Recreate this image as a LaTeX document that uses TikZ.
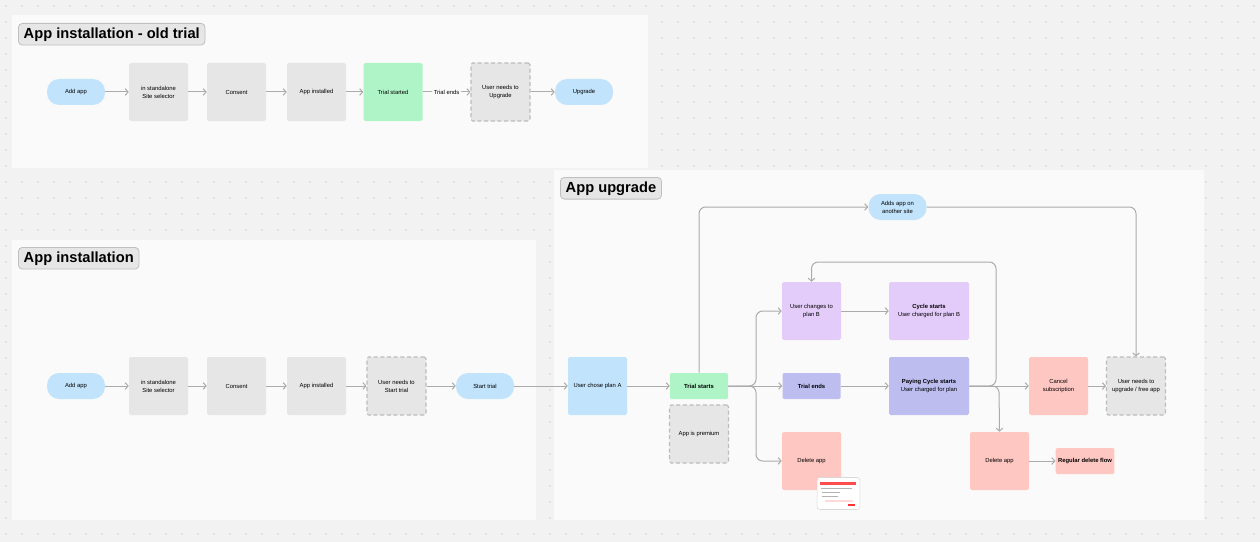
\documentclass[tikz,border=0pt]{standalone}
\usepackage{fontspec}
\setmainfont{Liberation Sans}
\usetikzlibrary{arrows.meta}
\definecolor{canvas}{HTML}{F2F2F2}
\definecolor{panel}{HTML}{FAFAFA}
\definecolor{gbox}{HTML}{E6E6E6}
\definecolor{bluef}{HTML}{C2E3FC}
\definecolor{greenf}{HTML}{AFF4C6}
\definecolor{lilac}{HTML}{E4CCFA}
\definecolor{violet}{HTML}{BDBDF0}
\definecolor{redf}{HTML}{FFC7C2}
\definecolor{linec}{HTML}{ABABAB}
\tikzset{
 base/.style={draw=none,align=center,font=\fontsize{4.4}{6}\selectfont,inner sep=1pt},
 sq/.style={base,minimum width=44.25pt,minimum height=43.5pt,rounded corners=1.2pt},
 wd/.style={base,minimum width=60pt,minimum height=43.5pt,rounded corners=1.2pt},
 pill/.style={base,minimum width=43.5pt,minimum height=19.5pt,rounded corners=9pt},
 bar/.style={base,minimum width=43.5pt,minimum height=19.5pt,rounded corners=1pt},
 dsh/.style={draw=linec!80,dashed,line width=0.8pt,dash pattern=on 3pt off 2pt},
 title/.style={draw=black!25,fill=gbox,rounded corners=3pt,line width=0.6pt,font=\fontsize{11}{13}\selectfont\bfseries,inner xsep=4pt,inner ysep=3pt,anchor=north west},
 ar/.style={draw=linec,line width=0.75pt,-{Straight Barb[length=2.2pt,width=5pt]},rounded corners=5pt},
}
\begin{document}
\begin{tikzpicture}[x=0.75pt,y=-0.75pt]
\fill[canvas] (0,0) rectangle (1260,542);
\useasboundingbox (0,0) rectangle (1260,542);
\foreach \i in {0,...,78}{\foreach \j in {0,...,33}{\fill[black!35] (\i*16+6,\j*16+6) circle (0.45pt);}}
% panels
\fill[panel] (12,15) rectangle (648,168);
\fill[panel] (12,240) rectangle (536,520);
\fill[panel] (554,170) rectangle (1204,520);
\node[title] (t1) at (18,23) {App installation - old trial};
\node[title] (t2) at (18,247) {App installation};
\node[title] (t3) at (560,177) {App upgrade};
% row 1
\node[pill,fill=bluef] (a1) at (76,92) {Add app};
\node[sq,fill=gbox] (b1) at (158.5,92) {in standalone\\Site selector};
\node[sq,fill=gbox] (c1) at (236.5,92) {Consent};
\node[sq,fill=gbox] (d1) at (316.5,92) {App installed};
\node[sq,fill=greenf] (e1) at (393,92) {Trial started};
\node[sq,fill=gbox,dsh] (f1) at (500.5,92) {User needs to\\Upgrade};
\node[pill,fill=bluef] (g1) at (584,92) {Upgrade};
\draw[ar] (a1) -- (b1);
\draw[ar] (b1) -- (c1);
\draw[ar] (c1) -- (d1);
\draw[ar] (d1) -- (e1);
\draw[ar] (e1) -- node[fill=panel,font=\fontsize{4.4}{6}\selectfont,inner sep=1.5pt] {Trial ends} (f1);
\draw[ar] (f1) -- (g1);
% row 2
\node[pill,fill=bluef] (a2) at (76,386) {Add app};
\node[sq,fill=gbox] (b2) at (158.5,386) {in standalone\\Site selector};
\node[sq,fill=gbox] (c2) at (236.5,386) {Consent};
\node[sq,fill=gbox] (d2) at (316.5,386) {App installed};
\node[sq,fill=gbox,dsh] (e2) at (396.5,386) {User needs to\\Start trial};
\node[pill,fill=bluef] (f2) at (485,386) {Start trial};
\draw[ar] (a2) -- (b2);
\draw[ar] (b2) -- (c2);
\draw[ar] (c2) -- (d2);
\draw[ar] (d2) -- (e2);
\draw[ar] (e2) -- (f2);
% upgrade
\node[sq,fill=bluef] (ua) at (597.5,386) {User chose plan A};
\node[bar,fill=greenf,font=\fontsize{4.4}{6}\selectfont\bfseries] (ts) at (699,386) {Trial starts};
\node[sq,fill=gbox,dsh] (ap) at (699,434) {App is premium};
\node[sq,fill=lilac] (pb) at (811.5,311) {User changes to\\plan B};
\node[wd,fill=lilac] (cs) at (929,311) {\textbf{Cycle starts}\\User charged for plan B};
\node[bar,fill=violet,font=\fontsize{4.4}{6}\selectfont\bfseries] (te) at (811.5,386) {Trial ends};
\node[wd,fill=violet] (pc) at (929,386) {\textbf{Paying Cycle starts}\\User charged for plan};
\node[sq,fill=redf] (da) at (811.5,461) {Delete app};
\node[pill,fill=bluef] (aa) at (897.5,207) {Adds app on\\another site};
\node[sq,fill=redf] (cn) at (1058.5,386) {Cancel\\subscription};
\node[sq,fill=gbox,dsh] (un) at (1136,386) {User needs to\\upgrade / free app};
\node[sq,fill=redf] (db) at (999.5,461) {Delete app};
\node[bar,fill=redf,minimum width=44pt,font=\fontsize{4.4}{6}\selectfont\bfseries] (rd) at (1085,461) {Regular delete flow};
% thumbnail
\node[draw=black!15,fill=white,rounded corners=2pt,minimum width=32pt,minimum height=24pt,line width=0.4pt] (th) at (838.5,493.5) {};
\fill[red!70] (820,482) rectangle (856,485);
\fill[black!30] (821,488) rectangle (852,489);
\fill[black!30] (822,492) rectangle (840,493);
\fill[black!30] (822,496) rectangle (838,497);
\fill[red!15] (825,500) rectangle (853,502);
\fill[red!80] (848,504) rectangle (855,506);
% connectors
\draw[ar] (f2) -- (ua);
\draw[ar] (ua) -- (ts);
\draw[ar] (ts) -- (te);
\draw[ar] (ts.east) -- (756,386) |- (pb.west);
\draw[ar] (ts.east) -- (756,386) |- (da.west);
\draw[ar] (ts.north) |- (aa.west);
\draw[ar] (aa.east) -| (un.north);
\draw[ar] (pb) -- (cs);
\draw[ar] (te) -- (pc);
\draw[ar] (pc) -- (cn);
\draw[ar] (cn) -- (un);
\draw[ar] (pc.east) -- (996,386) |- (900,262) -| (pb.north);
\draw[ar] (pc.east) -- (999,386) -- (db.north);
\draw[ar] (db) -- (rd);
\end{tikzpicture}
\end{document}
